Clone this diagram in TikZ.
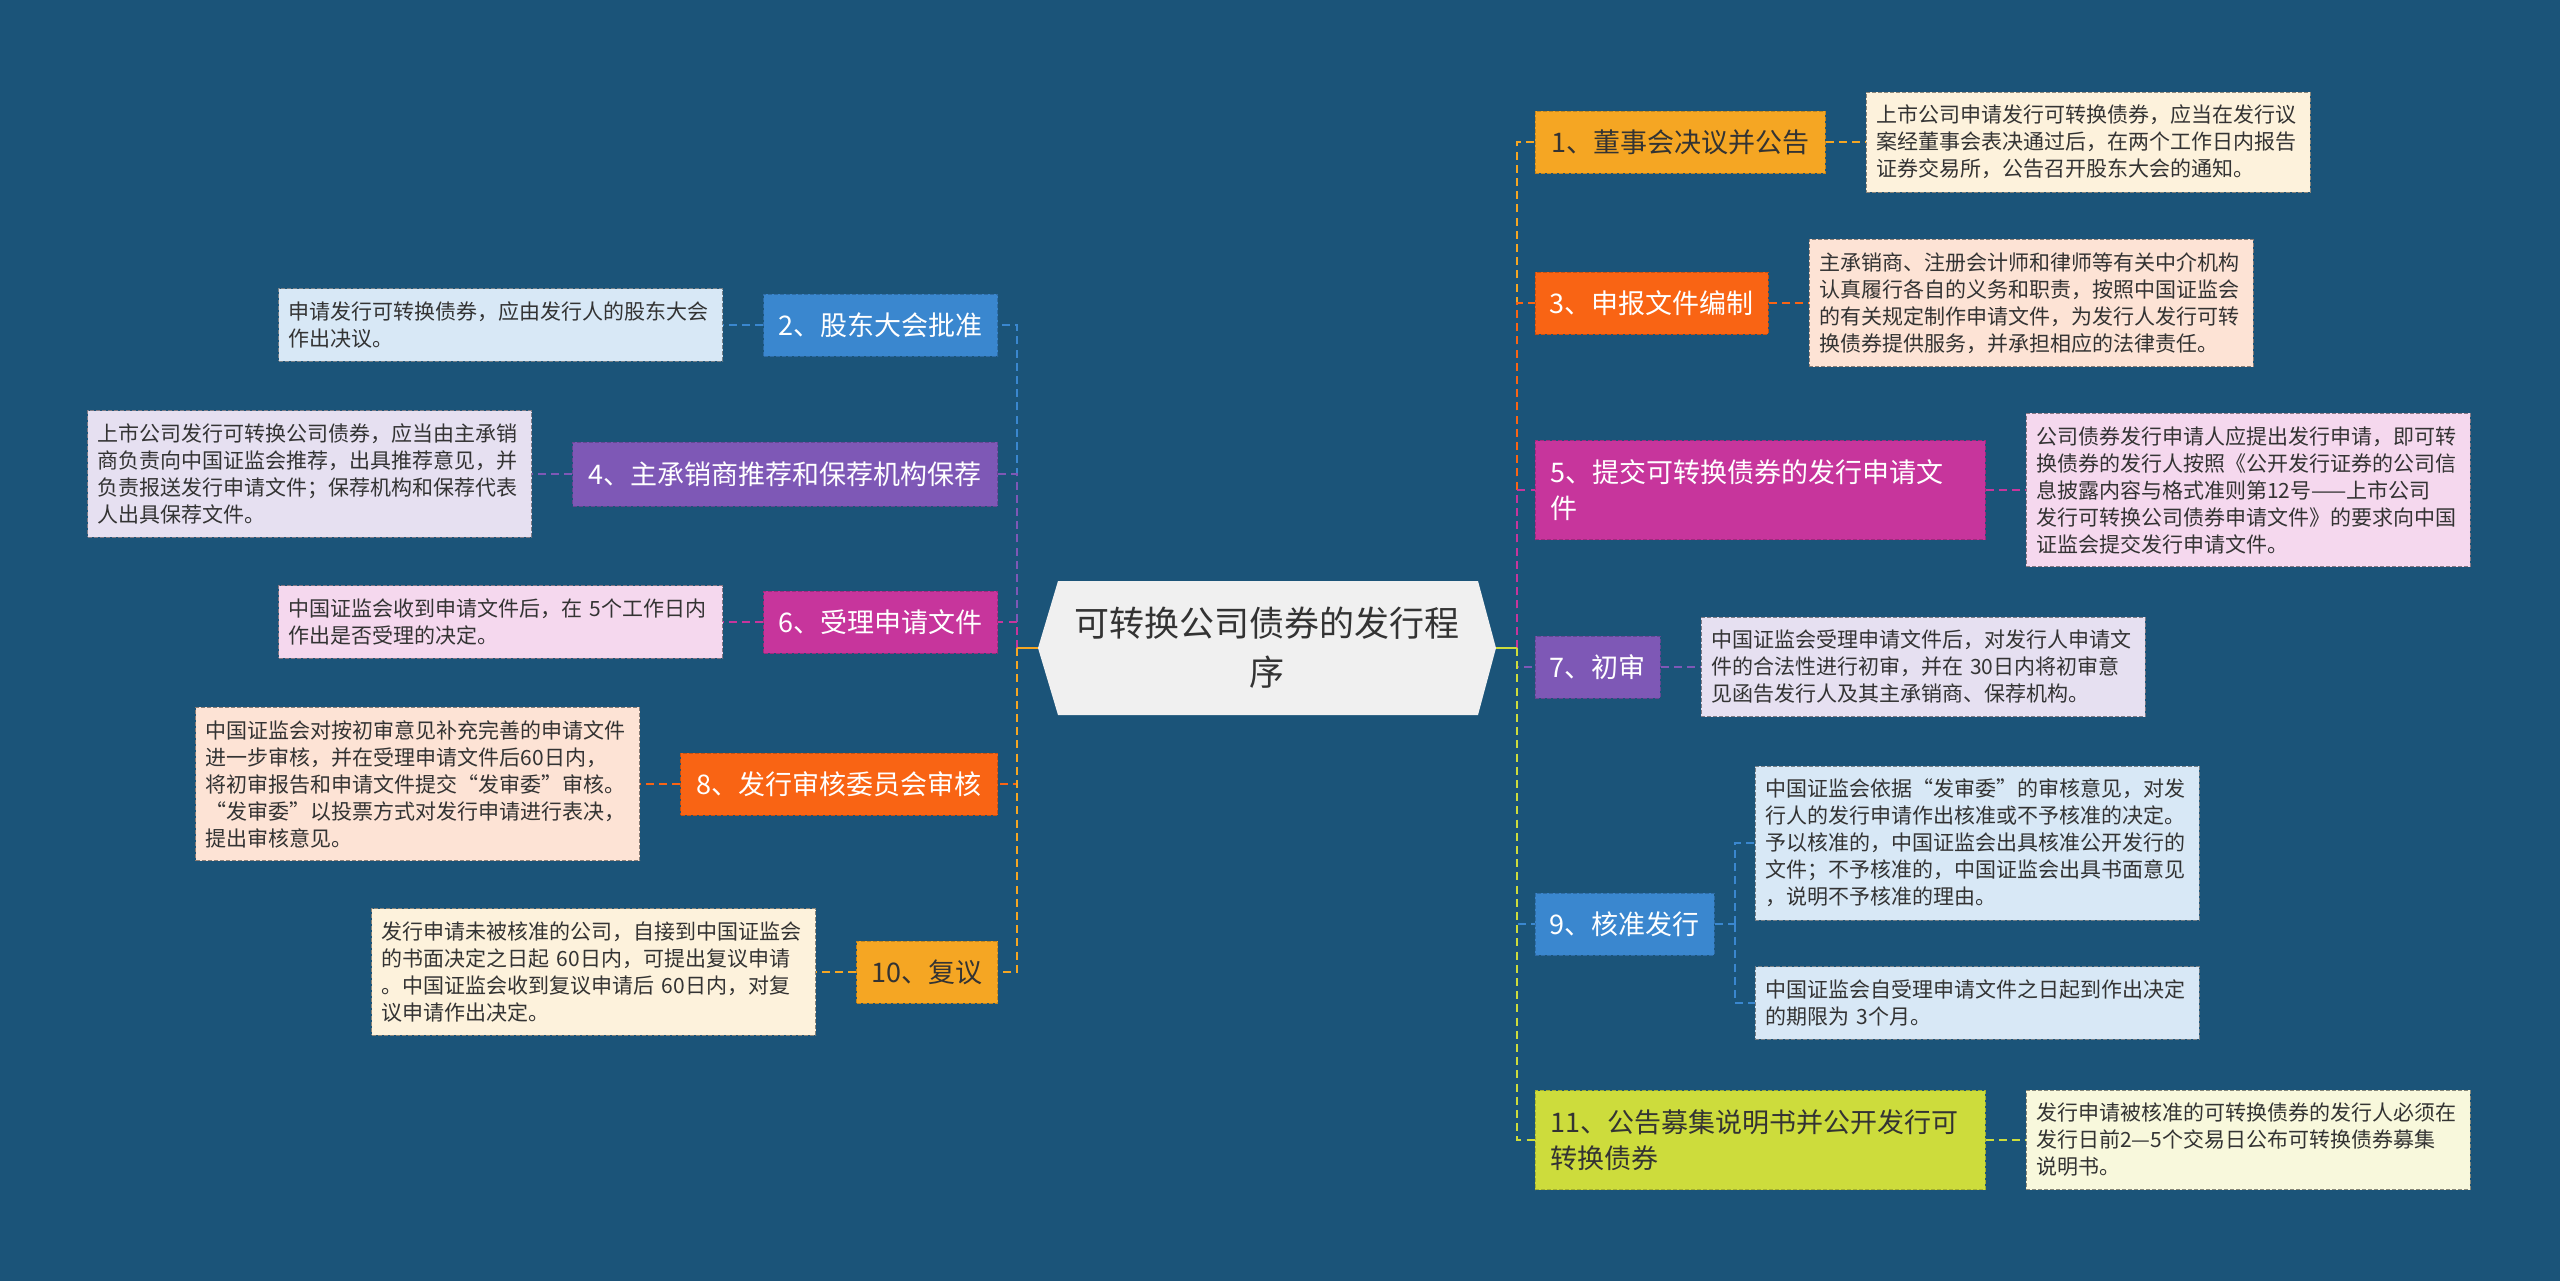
\documentclass[tikz,border=0pt]{standalone}
\usepackage{fontspec}
\setmainfont{Noto Sans CJK SC}
\usepackage{xcolor}
\definecolor{BgBlue}{HTML}{1B5479}
\definecolor{CoreGray}{HTML}{F0F0F0}
\definecolor{InkGray}{HTML}{333333}
\definecolor{AmberNode}{HTML}{F5A623}
\definecolor{AmberNote}{HTML}{FDF2DC}
\definecolor{FlameNode}{HTML}{F96414}
\definecolor{FlameNote}{HTML}{FDE3D5}
\definecolor{BerryNode}{HTML}{C7359C}
\definecolor{BerryNote}{HTML}{F5D8EE}
\definecolor{VioletNode}{HTML}{7E58B6}
\definecolor{VioletNote}{HTML}{E6E0F1}
\definecolor{SkyNode}{HTML}{3A87CF}
\definecolor{SkyNote}{HTML}{D8E8F6}
\definecolor{LimeNode}{HTML}{CDDC3C}
\definecolor{LimeNote}{HTML}{F8F8DC}
\usepackage{tikz}
\usetikzlibrary{positioning,calc}

\tikzset{
  topic/.style={draw=#1!80!black, dash pattern=on 2pt off 1pt, line width=0.4pt,
    fill=#1, text=white, minimum height=31pt, inner xsep=7pt,
    font=\fontsize{13.5}{18}\selectfont},
  darktopic/.style={topic=#1, text=InkGray},
  widetopic/.style={text width=210pt, align=left, minimum height=49.5pt, inner xsep=7.5pt},
  note/.style={draw=#1!55!black, dash pattern=on 2pt off 1pt, line width=0.4pt,
    fill=#1, text=InkGray, text width=212pt, align=left, inner xsep=5pt, inner ysep=6.5pt,
    font=\fontsize{10.5}{13.5}\selectfont},
  link/.style={draw=#1, line width=1.3pt, dash pattern=on 4pt off 2.6pt},
}

\begin{document}
\begin{tikzpicture}[x=0.5pt, y=-0.5pt]
    % Background
    \fill[BgBlue] (0,0) rectangle (2560,1281);
    \useasboundingbox (0,0) rectangle (2560,1281);

    % Central topic
    \fill[CoreGray] (1058,581) -- (1478,581) -- (1496,648) -- (1478,715)
      -- (1058,715) -- (1038,648) -- cycle;
    \node[text=InkGray, align=center, minimum width=229pt, minimum height=67pt,
      font=\fontsize{17.5}{24.5}\selectfont] (ctr) at (1267,648) {可转换公司债券的发行程\\序};
    \coordinate (rj) at (1517,648);
    \coordinate (lj) at (1017,648);

    % Right branches
    \node[darktopic=AmberNode, anchor=west, minimum width=145pt] (n1) at (1535,142) {1、董事会决议并公告};
    \node[topic=FlameNode, anchor=west, minimum width=116.5pt] (n3) at (1535,303) {3、申报文件编制};
    \node[topic=BerryNode, widetopic, anchor=west] (n5) at (1535,490) {5、提交可转换债券的发行申请文\\件};
    \node[topic=VioletNode, anchor=west, minimum width=62.5pt] (n7) at (1535,667) {7、初审};
    \node[topic=SkyNode, anchor=west, minimum width=89.5pt] (n9) at (1535,924) {9、核准发行};
    \node[darktopic=LimeNode, widetopic, anchor=west] (n11) at (1535,1140) {11、公告募集说明书并公开发行可\\转换债券};

    \node[note=AmberNote, right=20pt of n1] (d1) {上市公司申请发行可转换债券，应当在发行议\\案经董事会表决通过后，在两个工作日内报告\\证券交易所，公告召开股东大会的通知。};
    \node[note=FlameNote, right=20pt of n3] (d3) {主承销商、注册会计师和律师等有关中介机构\\认真履行各自的义务和职责，按照中国证监会\\的有关规定制作申请文件，为发行人发行可转\\换债券提供服务，并承担相应的法律责任。};
    \node[note=BerryNote, right=20pt of n5] (d5) {公司债券发行申请人应提出发行申请，即可转\\换债券的发行人按照《公开发行证券的公司信\\息披露内容与格式准则第12号——上市公司\\发行可转换公司债券申请文件》的要求向中国\\证监会提交发行申请文件。};
    \node[note=VioletNote, right=20pt of n7] (d7) {中国证监会受理申请文件后，对发行人申请文\\件的合法性进行初审，并在 30日内将初审意\\见函告发行人及其主承销商、保荐机构。};
    \node[note=SkyNote, anchor=west] (d9a) at (1755,843) {中国证监会依据“发审委”的审核意见，对发\\行人的发行申请作出核准或不予核准的决定。\\予以核准的，中国证监会出具核准公开发行的\\文件；不予核准的，中国证监会出具书面意见\\，说明不予核准的理由。};
    \node[note=SkyNote, anchor=west] (d9b) at (1755,1003) {中国证监会自受理申请文件之日起到作出决定\\的期限为 3个月。};
    \node[note=LimeNote, right=20pt of n11] (d11) {发行申请被核准的可转换债券的发行人必须在\\发行日前2—5个交易日公布可转换债券募集\\说明书。};

    % Left branches
    \node[topic=SkyNode, anchor=east, minimum width=117pt] (n2) at (998,325) {2、股东大会批准};
    \node[topic=VioletNode, anchor=east, minimum width=212.5pt, minimum height=32pt] (n4) at (998,474) {4、主承销商推荐和保荐机构保荐};
    \node[topic=BerryNode, anchor=east, minimum width=117pt] (n6) at (998,622) {6、受理申请文件};
    \node[topic=FlameNode, anchor=east, minimum width=158.5pt] (n8) at (998,784) {8、发行审核委员会审核};
    \node[darktopic=AmberNode, anchor=east, minimum width=70.5pt] (n10) at (998,972) {10、复议};

    \node[note=SkyNote, left=20pt of n2] (d2) {申请发行可转换债券，应由发行人的股东大会\\作出决议。};
    \node[note=VioletNote, left=20pt of n4] (d4) {上市公司发行可转换公司债券，应当由主承销\\商负责向中国证监会推荐，出具推荐意见，并\\负责报送发行申请文件；保荐机构和保荐代表\\人出具保荐文件。};
    \node[note=BerryNote, left=20pt of n6] (d6) {中国证监会收到申请文件后，在 5个工作日内\\作出是否受理的决定。};
    \node[note=FlameNote, left=20pt of n8] (d8) {中国证监会对按初审意见补充完善的申请文件\\进一步审核，并在受理申请文件后60日内，\\将初审报告和申请文件提交“发审委”审核。\\“发审委”以投票方式对发行申请进行表决，\\提出审核意见。};
    \node[note=AmberNote, left=20pt of n10] (d10) {发行申请未被核准的公司，自接到中国证监会\\的书面决定之日起 60日内，可提出复议申请\\。中国证监会收到复议申请后 60日内，对复\\议申请作出决定。};

    % Draw trunk connectors
    \foreach \kid/\col in {n1/AmberNode, n3/FlameNode, n5/BerryNode, n7/VioletNode, n9/SkyNode, n11/LimeNode} {
      \draw[link=\col] (rj) |- (\kid.west);
    }
    \foreach \kid/\col in {n2/SkyNode, n4/VioletNode, n6/BerryNode, n8/FlameNode, n10/AmberNode} {
      \draw[link=\col] (lj) |- (\kid.east);
    }
    \draw[LimeNode, line width=1.3pt] (ctr.east) -- (rj);
    \draw[AmberNode, line width=1.3pt] (ctr.west) -- (lj);

    % Draw topic-to-note connectors
    \foreach \k/\col in {1/AmberNode, 3/FlameNode, 5/BerryNode, 7/VioletNode, 11/LimeNode} {
      \draw[link=\col] (n\k.east) -- (d\k.west);
    }
    \foreach \k/\col in {2/SkyNode, 4/VioletNode, 6/BerryNode, 8/FlameNode, 10/AmberNode} {
      \draw[link=\col] (n\k.west) -- (d\k.east);
    }
    \coordinate[right=10pt of n9] (j9);
    \draw[link=SkyNode] (n9.east) -- (j9);
    \draw[link=SkyNode] (j9) |- (d9a.west);
    \draw[link=SkyNode] (j9) |- (d9b.west);
\end{tikzpicture}
\end{document}
